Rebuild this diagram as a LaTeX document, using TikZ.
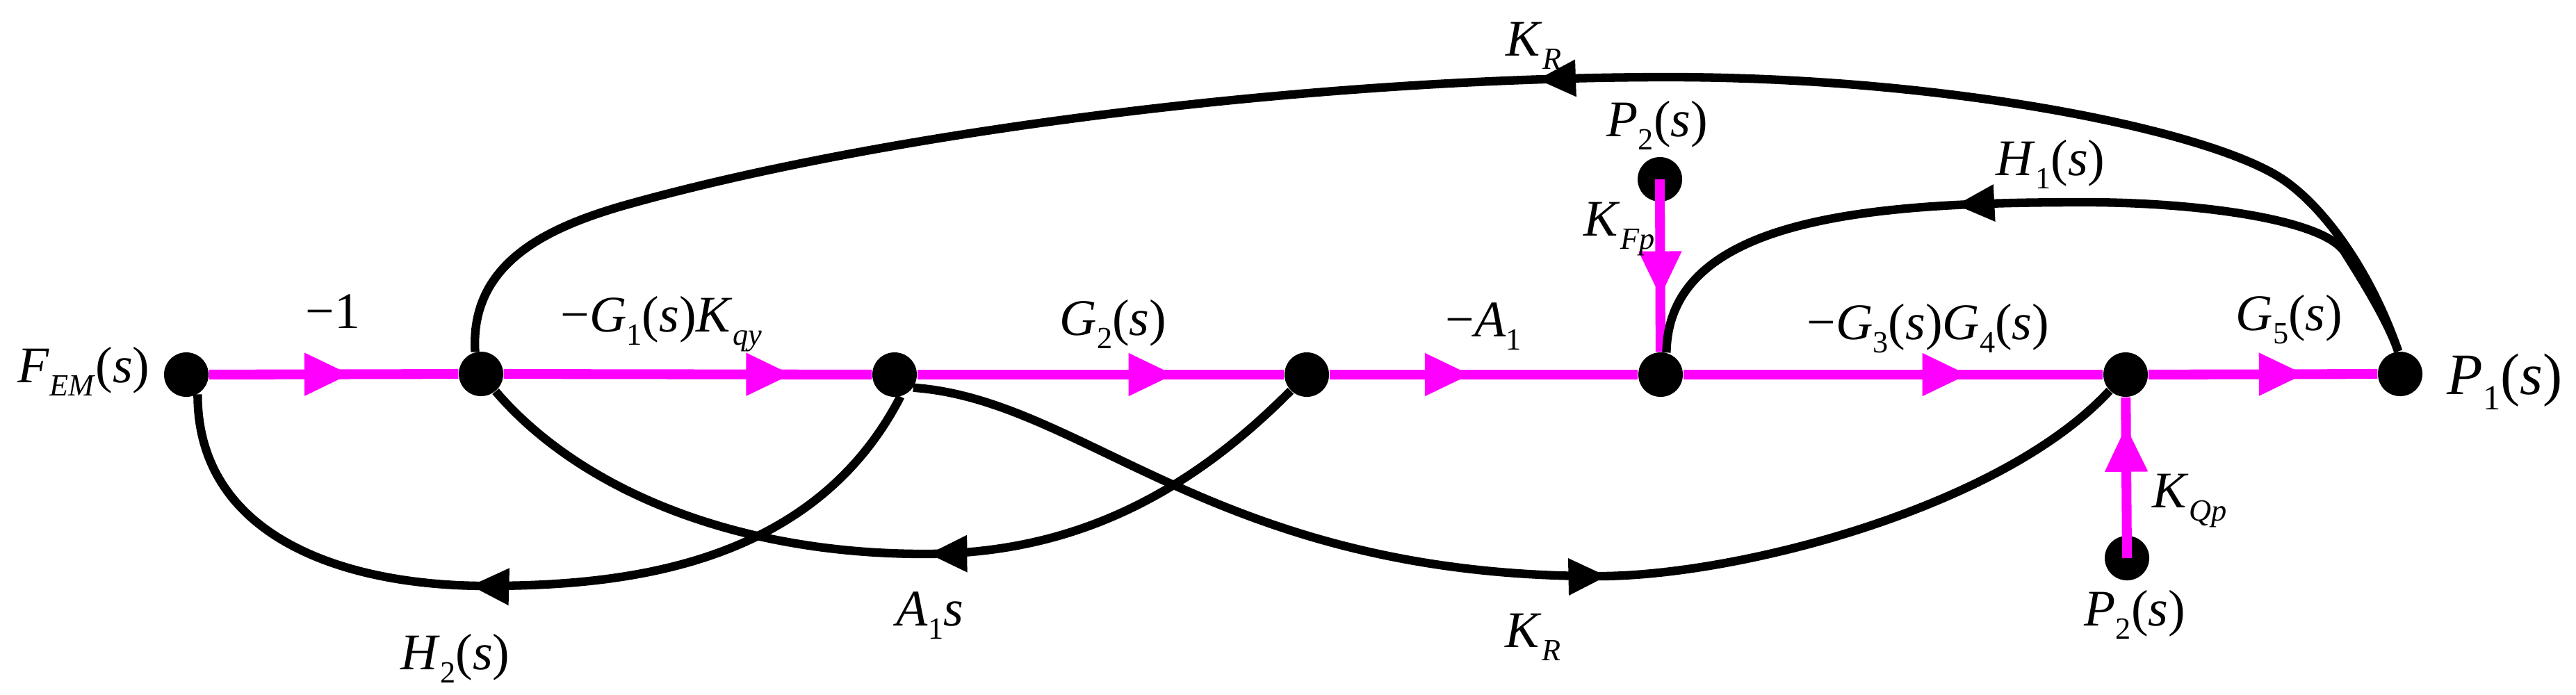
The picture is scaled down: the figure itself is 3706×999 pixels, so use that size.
\documentclass[tikz,border=0pt]{standalone}
\usepackage{fontspec}
\setmainfont{Liberation Serif}
\usepackage{graphicx}
\usepackage{xcolor}
\usepackage{tikz}
\usetikzlibrary{shapes,arrows,arrows.meta,positioning,calc,decorations.markings}

\definecolor{flowpink}{RGB}{255,0,255}

\newcommand{\iv}[1]{\textit{#1}}
\newcommand{\lo}[1]{\raisebox{-0.27em}{\scalebox{0.6}{#1}}}

\tikzset{
    dot/.style={circle, fill=black, inner sep=0pt, minimum size=0.64cm},
    lbl/.style={anchor=base west, inner sep=0pt, font=\fontsize{21}{25}\selectfont},
    branch/.style={flowpink, line width=4pt, postaction={decorate},
        decoration={markings, mark=at position #1 with {\arrow{Triangle[length=0.66cm, width=0.58cm]}}}},
    feedback/.style={black, line width=3.5pt, postaction={decorate},
        decoration={markings, mark=at position #1 with {\arrow{Triangle[length=0.56cm, width=0.5cm]}}}},
}

\begin{document}
\begin{tikzpicture}[x=0.01cm, y=-0.01cm]
    \useasboundingbox (0,0) rectangle (3706,999);

    \node[dot] (fem) at (268,539) {};
    \node[dot] (x1) at (692,538) {};
    \node[dot] (x2) at (1287,539) {};
    \node[dot] (x3) at (1880,539) {};
    \node[dot] (x4) at (2389,539) {};
    \node[dot] (x5) at (3058,539) {};
    \node[dot] (p1) at (3453,538) {};
    \node[dot] (p2a) at (2388,258) {};
    \node[dot] (p2b) at (3060,803) {};

    \draw[branch=0.567] (fem) -- (x1);
    \draw[branch=0.783] (x1) -- (x2);
    \draw[branch=0.701] (x2) -- (x3);
    \draw[branch=0.458] (x3) -- (x4);
    \draw[branch=0.679] (x4) -- (x5);
    \draw[branch=0.683] (x5) -- (p1);
    \draw[branch=0.683] (p2a.center) -- (x4);
    \draw[branch=0.823] (p2b.center) -- (x5);

    \draw[feedback=0.572] (x2.-75) .. controls (1170,814) and (900,843) .. (700,843)
        .. controls (490,843) and (284,770) .. (fem.-60);
    \draw[feedback=0.462] (x3.-135) .. controls (1714,706) and (1550,797) .. (1330,797)
        .. controls (1050,797) and (830,700) .. (x1.-50);
    \draw[feedback=0.571] (x2.-35) .. controls (1560,575) and (1750,829) .. (2300,829)
        .. controls (2500,829) and (2880,730) .. (x5.-135);
    \draw[feedback=0.457] (p1.95) .. controls (3409,386) and (3340,294) .. (3281,256)
        .. controls (3172,186) and (2800,111) .. (2400,111)
        .. controls (1900,111) and (1284,187) .. (900,295)
        .. controls (784,328) and (676,380) .. (x1.105);
    \draw[feedback=0.589] (p1.95) .. controls (3433,456) and (3390,390) .. (3372,361)
        .. controls (3336,313) and (3150,291) .. (3000,291)
        .. controls (2700,291) and (2400,310) .. (x4.75);

    \node[lbl] (lfem) at (25,550) {\iv{F}\lo{\iv{EM}}(\iv{s})};
    \node[lbl] (lm1) at (439,472) {−1};
    \node[lbl] (lg1) at (806,477) {−\iv{G}\lo{1}(\iv{s})\iv{K}\lo{\iv{qy}}};
    \node[lbl] (lg2) at (1524,482) {\iv{G}\lo{2}(\iv{s})};
    \node[lbl] (la1) at (2079,484) {−\iv{A}\lo{1}};
    \node[lbl] (lg34) at (2599,488) {−\iv{G}\lo{3}(\iv{s})\iv{G}\lo{4}(\iv{s})};
    \node[lbl] (lg5) at (3216,475) {\iv{G}\lo{5}(\iv{s})};
    \node[lbl, font=\fontsize{24}{28}\selectfont] (lp1) at (3520,567) {\iv{P}\lo{1}(\iv{s})};
    \node[lbl] (lh2) at (576,963) {\iv{H}\lo{2}(\iv{s})};
    \node[lbl] (la1s) at (1289,900) {\iv{A}\lo{1}\iv{s}};
    \node[lbl] (lkrb) at (2165,931) {\iv{K}\lo{\iv{R}}};
    \node[lbl] (lkqp) at (3096,730) {\iv{K}\lo{\iv{Qp}}};
    \node[lbl] (lp2b) at (2998,900) {\iv{P}\lo{2}(\iv{s})};
    \node[lbl] (lkfp) at (2278,339) {\iv{K}\lo{\iv{Fp}}};
    \node[lbl] (lp2a) at (2311,196) {\iv{P}\lo{2}(\iv{s})};
    \node[lbl] (lkrt) at (2166,80) {\iv{K}\lo{\iv{R}}};
    \node[lbl] (lh1) at (2871,252) {\iv{H}\lo{1}(\iv{s})};
\end{tikzpicture}
\end{document}
